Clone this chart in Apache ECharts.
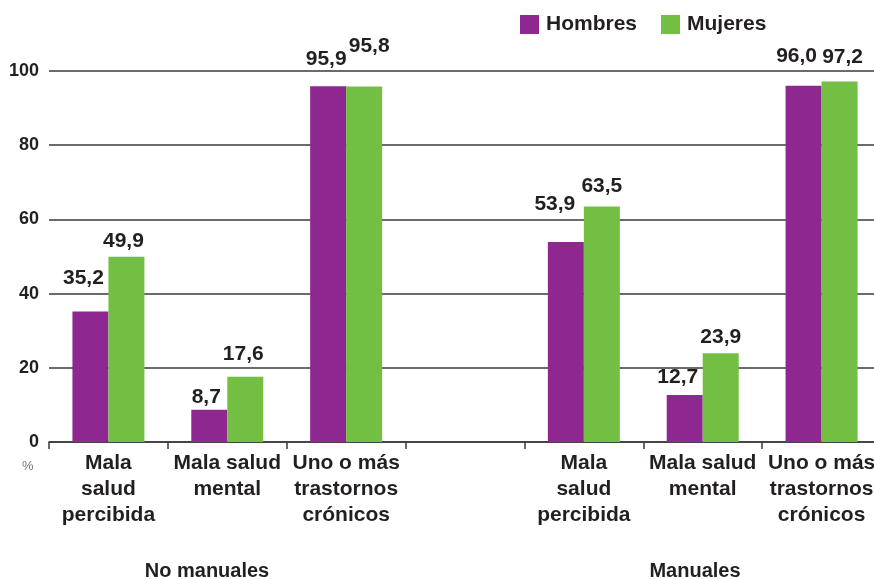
<!DOCTYPE html>
<html>
<head>
<meta charset="utf-8">
<script src="https://cdn.jsdelivr.net/npm/echarts@6/dist/echarts.min.js"></script>
<style>html,body{margin:0;padding:0;background:#fff;overflow:hidden;width:874px;height:579px}#c{width:884px;height:579px}</style>
</head>
<body>
<div id="c"></div>
<script>
var categories = ['Mala\nsalud\npercibida', 'Mala salud\nmental', 'Uno o más\ntrastornos\ncrónicos', '', 'Mala\nsalud\npercibida', 'Mala salud\nmental', 'Uno o más\ntrastornos\ncrónicos'];
var hombres = [35.2, 8.7, 95.9, '-', 53.9, 12.7, 96.0];
var mujeres = [49.9, 17.6, 95.8, '-', 63.5, 23.9, 97.2];
var yTicks = [0, 20, 40, 60, 80, 100];
var groups = ['No manuales', 'Manuales'];

// label placement styling (not data)
var hOffsets = [[-7,-18],[-3,3],[-2,-12],[0,0],[-11,-22],[-7,-2],[-7,-14]];
var mOffsets = [[-3,0],[-2,-7],[5,-25],[0,0],[0,-5],[0,-1],[3,-9]];

var FONT = '"Liberation Sans", Arial, sans-serif';
var TXT = '#231F20';

function fmt(v){ return v.toFixed(1).replace('.', ','); }
function mk(vals, offs){
  return vals.map(function(v,i){
    if (v === '-') return '-';
    return {value: v, label: {offset: offs[i]}};
  });
}

var chart = echarts.init(document.getElementById('c'));
chart.setOption({
  animation: false,
  textStyle: {fontFamily: FONT},
  legend: {
    data: ['Hombres', 'Mujeres'],
    left: 520, top: 14, padding: 0,
    icon: 'rect', itemWidth: 19, itemHeight: 19, itemGap: 24,
    textStyle: {fontSize: 21, fontWeight: 'bold', color: TXT, fontFamily: FONT, padding: [6, 0, 0, 2]}
  },
  grid: {left: 49, top: 71, width: 832, height: 371, containLabel: false},
  xAxis: {
    type: 'category',
    data: categories,
    axisLine: {lineStyle: {color: '#3a3a3a', width: 1.5}},
    axisTick: {show: true, interval: 0, length: 7, lineStyle: {color: '#3a3a3a', width: 1.5}},
    axisLabel: {interval: 0, margin: 8, fontSize: 21, fontWeight: 'bold', color: TXT, lineHeight: 26, fontFamily: FONT}
  },
  yAxis: {
    type: 'value', min: yTicks[0], max: yTicks[yTicks.length-1], interval: 20,
    axisLine: {show: false}, axisTick: {show: false},
    splitLine: {lineStyle: {color: '#3a3a3a', width: 1.5}},
    axisLabel: {margin: 10, fontSize: 18, fontWeight: 'bold', color: TXT, fontFamily: FONT}
  },
  series: [
    {name: 'Hombres', type: 'bar', data: mk(hombres, hOffsets), barWidth: 36, barGap: '0%',
     itemStyle: {color: '#8E278F'},
     label: {show: true, position: 'top', distance: 5, fontSize: 21, fontWeight: 'bold', color: TXT, fontFamily: FONT,
       formatter: function(p){ return fmt(p.value); }}},
    {name: 'Mujeres', type: 'bar', data: mk(mujeres, mOffsets), barWidth: 36, barGap: '0%',
     itemStyle: {color: '#72BF44'},
     label: {show: true, position: 'top', distance: 5, fontSize: 21, fontWeight: 'bold', color: TXT, fontFamily: FONT,
       formatter: function(p){ return fmt(p.value); }}}
  ],
  graphic: [
    {type: 'text', left: 22, top: 460, style: {text: '%', font: '13px ' + FONT, fill: '#777'}},
    {type: 'text', x: 207, y: 571, style: {text: groups[0], font: 'bold 20px ' + FONT, fill: TXT, textAlign: 'center', textVerticalAlign: 'middle'}},
    {type: 'text', x: 695, y: 571, style: {text: groups[1], font: 'bold 20px ' + FONT, fill: TXT, textAlign: 'center', textVerticalAlign: 'middle'}}
  ]
});
</script>
</body>
</html>
